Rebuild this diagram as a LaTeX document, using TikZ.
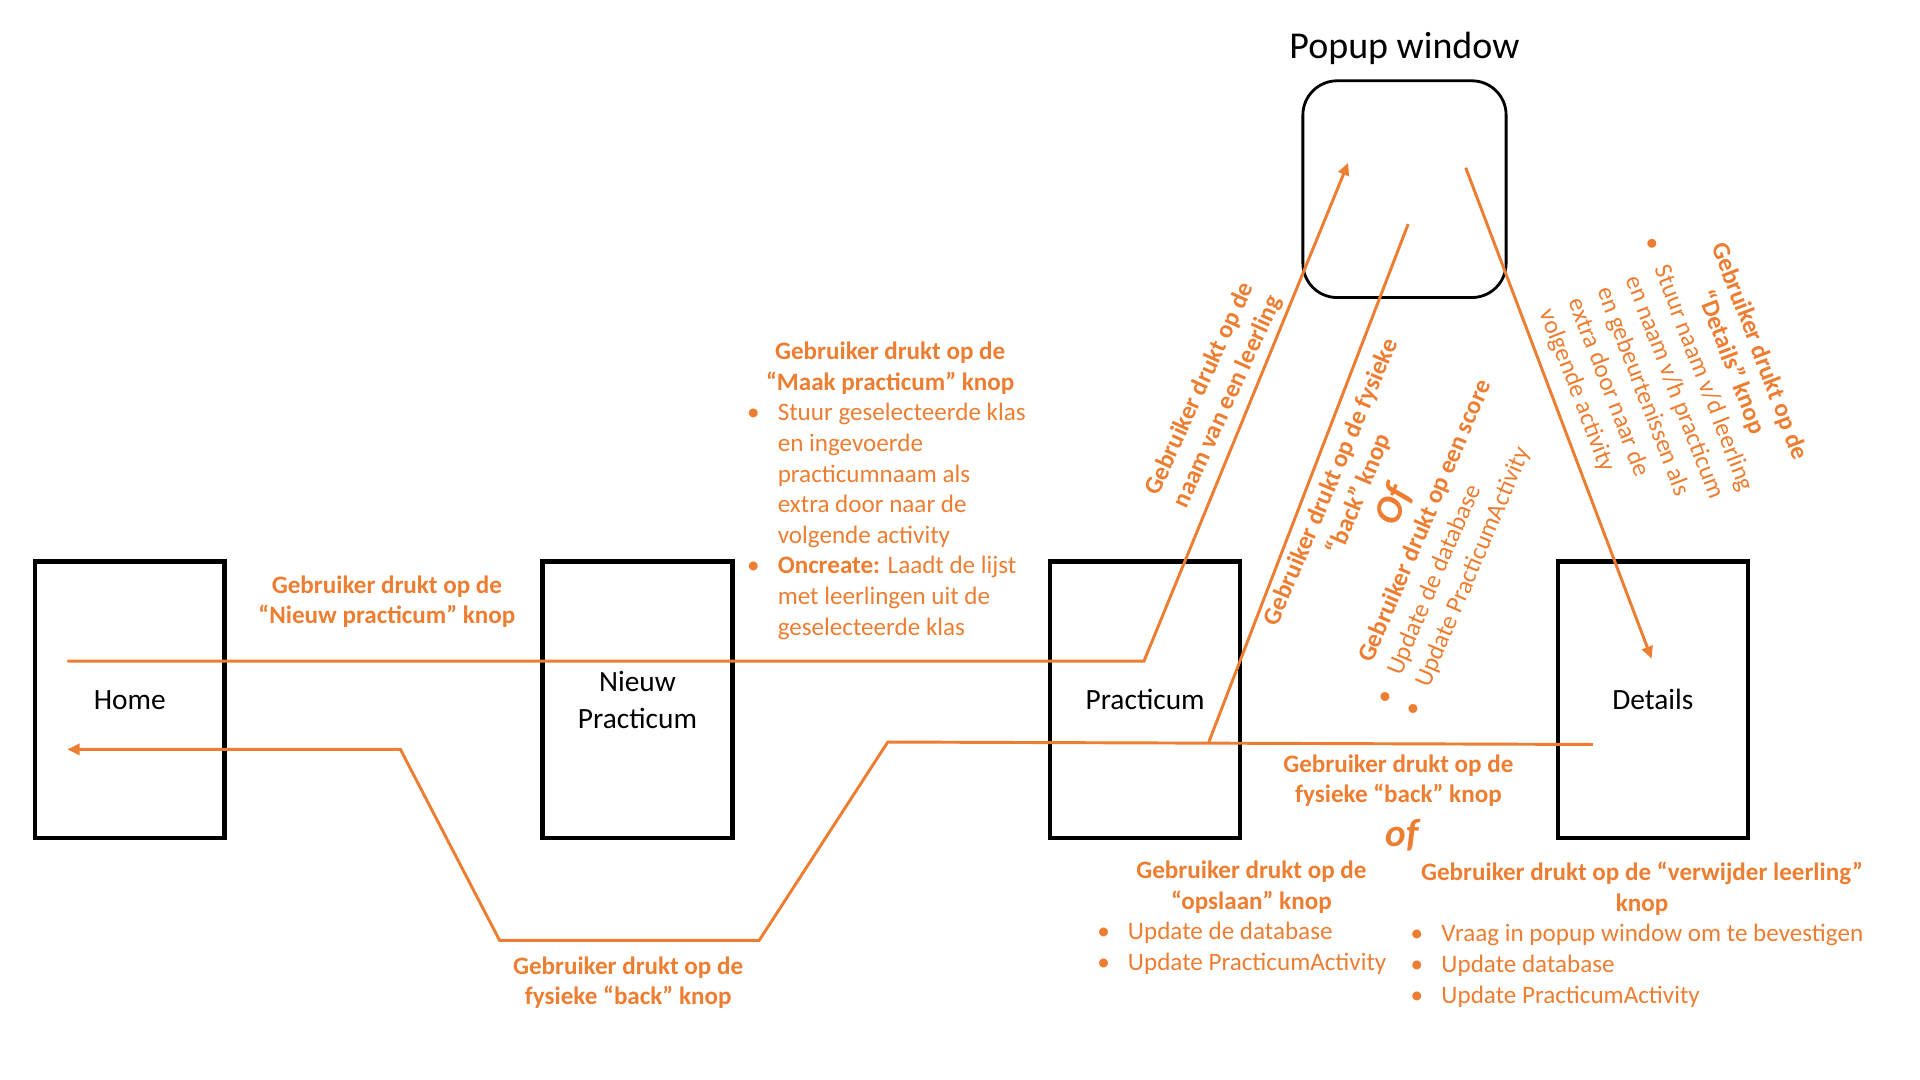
\documentclass[tikz,border=0pt]{standalone}
\usepackage{fontspec}
\setmainfont{Carlito}
\usepackage{xcolor}
\usetikzlibrary{arrows.meta,positioning}

\definecolor{floworange}{HTML}{ED7D31}
\newcommand\lblfont{\fontsize{20.5}{25}\selectfont}
\newcommand\listbul{\makebox[20pt][c]{•}\hspace{10pt}}
\newcommand\listind{\hspace*{30pt}}

\begin{document}
\begin{tikzpicture}[
  x=1pt, y=1pt,
  node distance=256pt,
  screen/.style={draw, line width=3.6pt, minimum width=155pt, minimum height=226pt, align=center, font=\fontsize{24}{30}\selectfont},
  popup/.style={draw, line width=2.3pt, rounded corners=28pt, minimum width=166pt, minimum height=177pt},
  flow/.style={draw=floworange, line width=2.4pt},
  arrow/.style={flow, -{Triangle[length=10pt, width=9pt]}},
  lbl/.style={text=floworange, font=\lblfont\bfseries, align=center, inner sep=0pt},
  note/.style={text=floworange, font=\lblfont, align=left, inner sep=0pt, anchor=north west},
  orlbl/.style={text=floworange, font=\fontsize{32}{36}\selectfont\bfseries\itshape, inner sep=0pt}
]
\useasboundingbox (0,0) rectangle (1568,882);

% screens
\node[screen] (home) at (106,310.5) {Home};
\node[screen, right=of home] (nieuw) {Nieuw\\Practicum};
\node[screen, right=of nieuw] (prac) {Practicum};
\node[screen, right=of prac] (details) {Details};
\node[popup] (popup) at (1147,727.5) {};
\node[font=\fontsize{31}{36}\selectfont, inner sep=0pt, above=12pt of popup] (popuptitle) {Popup window};

% bend points of the flows
\coordinate (fwd0) at ([shift={(-51,31.5)}]home.center);
\coordinate (fwd1) at ([shift={(-1,31.5)}]prac.center);
\coordinate (toPopup) at ([shift={(-46,21.5)}]popup.center);
\coordinate (back0) at ([shift={(-49,-36.5)}]details.center);
\coordinate (back1) at (725,276);
\coordinate (back2) at (620,114);
\coordinate (back3) at (408,114);
\coordinate (back4) at (327,270);
\coordinate (toHome) at ([shift={(-51,-40.5)}]home.center);
\coordinate (fromPopup) at ([shift={(3,-28.5)}]popup.center);
\coordinate (join) at ([shift={(52,-34.5)}]prac.center);
\coordinate (popupOut) at ([shift={(50,17.5)}]popup.center);
\coordinate (toDetails) at ([shift={(-1,33.5)}]details.center);

\draw[arrow] (fwd0) -- (fwd1) -- (toPopup);
\draw[arrow] (back0) -- (back1) -- (back2) -- (back3) -- (back4) -- (toHome);
\draw[flow] (fromPopup) -- (join);
\draw[arrow] (popupOut) -- (toDetails);

% labels
\node[lbl] (newlbl) at (316,390.5) {Gebruiker drukt op de\\“Nieuw practicum” knop};
\node[lbl] (maakhdr) at (727,581.5) {Gebruiker drukt op de\\“Maak practicum” knop};
\node[note] (maaklist) at (605,556) {\strut\listbul Stuur geselecteerde klas\\\listind en ingevoerde\\\listind practicumnaam als\\\listind extra door naar de\\\listind volgende activity\\\listbul\textbf{Oncreate:} Laadt de lijst\\\listind met leerlingen uit de\\\listind geselecteerde klas};
\node[lbl] (backlbl) at (513,79.5) {Gebruiker drukt op de\\fysieke “back” knop};
\node[lbl] (backlbl2) at (1142,244.5) {Gebruiker drukt op de\\fysieke “back” knop};
\node[orlbl] (of1) at (1145,200) {of};
\node[lbl] (opslaanhdr) at (1022,157.5) {Gebruiker drukt op de\\“opslaan” knop};
\node[note] (opslaanlist) at (891,132.5) {\strut\listbul Update de database\\\listbul Update PracticumActivity};
\node[lbl] (verwijderhdr) at (1341,156) {Gebruiker drukt op de “verwijder leerling”\\knop};
\node[note] (verwijderlist) at (1147,130.5) {\strut\listbul Vraag in popup window om te bevestigen\\\listbul Update database\\\listbul Update PracticumActivity};

% slanted labels
\node[lbl, rotate=65.5] (naamlbl) at (991.5,559) {Gebruiker drukt op de\\naam van een leerling};
\begin{scope}[shift={(1087,488)}, rotate=67, transform shape]
  \node[lbl] (backlbl3) at (0,-12.8) {Gebruiker drukt op de fysieke\\“back” knop};
  \node[orlbl] (of2) at (3,-54.6) {Of};
  \node[lbl] (scorelbl) at (1,-83.6) {Gebruiker drukt op een score};
  \node[note] (scorelist) at (-154,-97) {\strut\listbul Update de database\\\listbul Update PracticumActivity};
\end{scope}
\begin{scope}[shift={(1437,595)}, rotate=-69, transform shape]
  \node[lbl] (detailslbl) at (0,-12.75) {Gebruiker drukt op de\\“Details” knop};
  \node[note] (detailslist) at (-124,-38.5) {\strut\listbul Stuur naam v/d leerling\\\listind en naam v/h practicum\\\listind en gebeurtenissen als\\\listind extra door naar de\\\listind volgende activity};
\end{scope}
\end{tikzpicture}
\end{document}
